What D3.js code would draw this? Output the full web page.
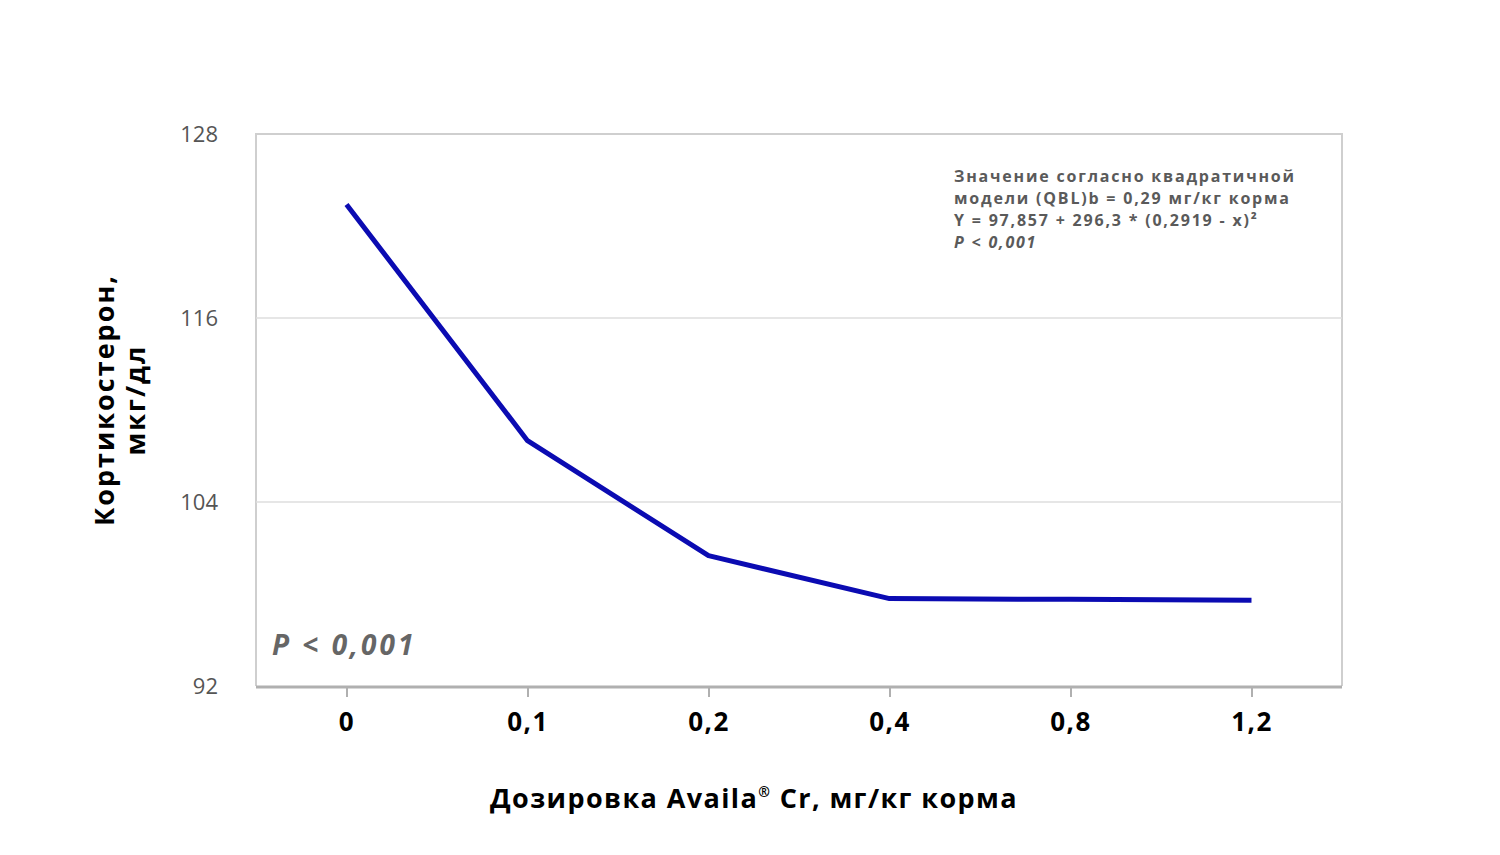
<!DOCTYPE html>
<html>
<head>
<meta charset="utf-8">
<script src="https://cdn.jsdelivr.net/npm/d3@7"></script>
<style>
  body { margin: 0; background: #fff; }
  svg text { font-family: "Open Sans", "DejaVu Sans", sans-serif; }
</style>
</head>
<body>
<svg id="chart" width="1500" height="855"></svg>
<script>
var doses = ["0", "0,1", "0,2", "0,4", "0,8", "1,2"];
var cortico = [123.4, 108.0, 100.5, 97.7, 97.65, 97.6];
var yTicks = [92, 104, 116, 128];
var noteLines = [
  "Значение согласно квадратичной",
  "модели (QBL)b = 0,29 мг/кг корма",
  "Y = 97,857 + 296,3 * (0,2919 - x)²",
  "P < 0,001"
];

var svg = d3.select("#chart");
var plotL = 256, plotR = 1342, plotT = 134, plotB = 686;

var x = d3.scalePoint().domain(doses).range([plotL, plotR]).padding(0.5);
var y = d3.scaleLinear().domain([92, 128]).range([plotB, plotT]);

// frame
svg.append("path")
  .attr("d", "M" + plotL + "," + plotB + "V" + plotT + "H" + plotR + "V" + plotB)
  .attr("fill", "none").attr("stroke", "#cfcfcf").attr("stroke-width", 2);

// grid
svg.append("g").selectAll("line")
  .data(yTicks.filter(function(t) { return t > 92 && t < 128; }))
  .enter().append("line")
  .attr("x1", plotL).attr("x2", plotR)
  .attr("y1", function(d) { return y(d); }).attr("y2", function(d) { return y(d); })
  .attr("stroke", "#dedede").attr("stroke-width", 1.5);

// y tick labels
svg.append("g").selectAll("text")
  .data(yTicks).enter().append("text")
  .attr("x", 218).attr("y", function(d) { return y(d); })
  .attr("dy", "0.35em").attr("text-anchor", "end")
  .attr("font-size", 22).attr("fill", "#555")
  .text(function(d) { return d; });

// x axis
var xAxis = svg.append("g")
  .attr("transform", "translate(0," + plotB + ")")
  .call(d3.axisBottom(x).tickSize(11).tickSizeOuter(0).tickPadding(16));
xAxis.select(".domain").attr("stroke", "#b0b0b0").attr("stroke-width", 3)
  .attr("d", "M" + plotL + ",1H" + plotR);
xAxis.selectAll(".tick line").attr("stroke", "#b0b0b0").attr("stroke-width", 2);
xAxis.selectAll(".tick text")
  .attr("font-family", "'Open Sans', sans-serif")
  .attr("font-size", 26).attr("font-weight", 700).attr("fill", "#000")
  .attr("letter-spacing", 1.5);

// line
var line = d3.line()
  .x(function(d, i) { return x(doses[i]); })
  .y(function(d) { return y(d); });
svg.append("path").datum(cortico)
  .attr("d", line).attr("fill", "none")
  .attr("stroke", "#0b0bb2").attr("stroke-width", 5)
  .attr("stroke-linejoin", "round");

// note
var note = svg.append("text").attr("x", 954).attr("y", 182)
  .attr("font-size", 16).attr("font-weight", 700).attr("fill", "#5a5a5a")
  .attr("letter-spacing", 1.8);
noteLines.forEach(function(l, i) {
  note.append("tspan").attr("x", 954).attr("y", 182 + i * 22)
    .attr("font-style", i === 3 ? "italic" : "normal").text(l);
});

// P value
svg.append("text").attr("x", 272).attr("y", 655)
  .attr("font-size", 28).attr("font-weight", 700).attr("font-style", "italic")
  .attr("letter-spacing", 3)
  .attr("fill", "#666").text("P < 0,001");

// axis titles
svg.append("text").attr("x", 754).attr("y", 808).attr("text-anchor", "middle")
  .attr("font-size", 27).attr("font-weight", 700).attr("fill", "#000")
  .attr("letter-spacing", 1.4)
  .html("Дозировка Availa<tspan font-size='14' dy='-11'>®</tspan><tspan dy='11'> Cr, мг/кг корма</tspan>");

var yt = svg.append("text").attr("transform", "translate(0,400) rotate(-90)")
  .attr("text-anchor", "middle").attr("font-size", 27).attr("font-weight", 700).attr("fill", "#000")
  .attr("letter-spacing", 2);
yt.append("tspan").attr("x", 0).attr("y", 114).text("Кортикостерон,");
yt.append("tspan").attr("x", 0).attr("y", 145).text("мкг/дл");
</script>
</body>
</html>
